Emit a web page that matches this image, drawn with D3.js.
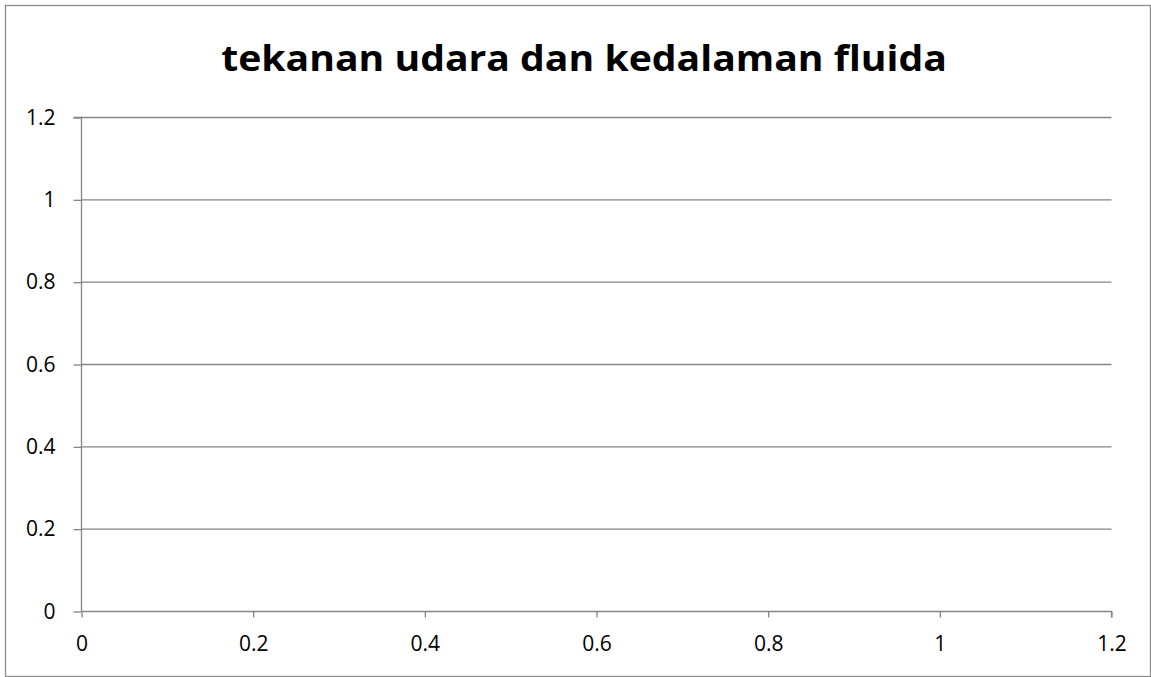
<!DOCTYPE html>
<html>
<head>
<meta charset="utf-8">
<script src="https://cdn.jsdelivr.net/npm/d3@7"></script>
<style>
  body { margin: 0; background: #fff; }
  text { font-family: "Open Sans", "Noto Sans", sans-serif; fill: #000; }
</style>
</head>
<body>
<div id="chart"></div>
<script>
const chartTitle = 'tekanan udara dan kedalaman fluida';
const xTicks = [0, 0.2, 0.4, 0.6, 0.8, 1, 1.2];
const yTicks = [0, 0.2, 0.4, 0.6, 0.8, 1, 1.2];
// the chart has no plotted series
const seriesX = [];
const seriesY = [];

const size = { width: 1151, height: 677 };
const plot = { left: 81.5, right: 1111.5, top: 117.5, bottom: 611.5 };

const svg = d3.select('#chart').append('svg')
  .attr('width', size.width)
  .attr('height', size.height);

svg.append('rect')
  .attr('x', 5.5).attr('y', 5.5)
  .attr('width', 1145).attr('height', 671)
  .attr('fill', 'white')
  .attr('stroke', '#8c8c8c')
  .attr('stroke-width', 1.3);

const x = d3.scaleLinear().domain([0, 1.2]).range([plot.left, plot.right]);
const y = d3.scaleLinear().domain([0, 1.2]).range([plot.bottom, plot.top]);

// horizontal gridlines
svg.append('g')
  .selectAll('line')
  .data(yTicks.filter(d => d > 0))
  .enter().append('line')
  .attr('x1', plot.left).attr('x2', plot.right)
  .attr('y1', d => y(d)).attr('y2', d => y(d))
  .attr('stroke', '#868686')
  .attr('stroke-width', 1.3);

const fmt = d => String(d);

const yAxis = svg.append('g')
  .attr('transform', `translate(${plot.left},0)`)
  .call(d3.axisLeft(y).tickValues(yTicks).tickFormat(fmt).tickSize(8).tickPadding(18));

const xAxis = svg.append('g')
  .attr('transform', `translate(0,${plot.bottom})`)
  .call(d3.axisBottom(x).tickValues(xTicks).tickFormat(fmt).tickSize(6).tickPadding(19));

[yAxis, xAxis].forEach(ax => {
  ax.attr('font-size', 21).attr('font-family', '"Open Sans", sans-serif');
  ax.select('.domain').attr('stroke', '#868686').attr('stroke-width', 1.3);
  ax.selectAll('.tick line').attr('stroke', '#868686').attr('stroke-width', 1.3);
  ax.selectAll('.tick text').attr('fill', '#000');
});
yAxis.select('.domain').attr('d', `M-8,${plot.top}H0V${plot.bottom}`);
xAxis.select('.domain').attr('d', `M${plot.left},0H${plot.right}V6`);

svg.append('g')
  .selectAll('circle')
  .data(seriesX.map((d, i) => [d, seriesY[i]]))
  .enter().append('circle')
  .attr('cx', d => x(d[0]))
  .attr('cy', d => y(d[1]))
  .attr('r', 4)
  .attr('fill', '#4f81bd');

// title is a condensed bold face in the original, so squeeze it horizontally
const title = svg.append('text')
  .attr('text-anchor', 'middle')
  .attr('font-weight', 'bold')
  .attr('font-size', 36)
  .text(chartTitle);
const tw = title.node().getComputedTextLength();
title.attr('transform', `translate(584,71) scale(${726 / tw},1)`);
</script>
</body>
</html>
